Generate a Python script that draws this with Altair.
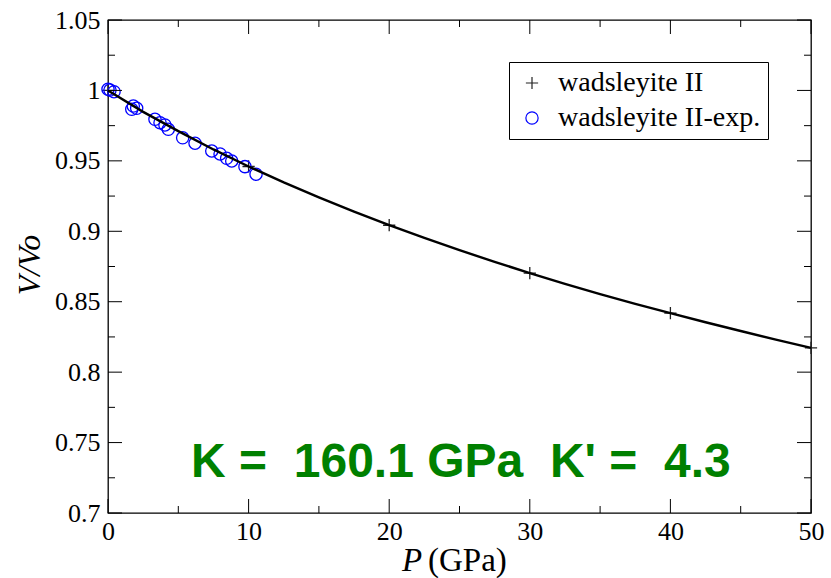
import altair as alt
import pandas as pd

# ---------------- data ----------------
series_names = ["wadsleyite II", "wadsleyite II-exp."]

# calculated points (plus markers)
calc_P = [0, 10, 20, 30, 40, 50]
calc_V = [1.0, 0.9460, 0.9043, 0.8703, 0.8419, 0.8172]

# fitted EOS curve
fit_P = [0, 2.5, 5, 7.5, 10, 12.5, 15, 17.5, 20, 22.5, 25, 27.5, 30,
         32.5, 35, 37.5, 40, 42.5, 45, 47.5, 50]
fit_V = [1.0, 0.9848, 0.9711, 0.9581, 0.9460, 0.9347, 0.9241, 0.9140,
         0.9043, 0.8953, 0.8866, 0.8783, 0.8703, 0.8627, 0.8554, 0.8485,
         0.8419, 0.8354, 0.8292, 0.8231, 0.8172]

# experimental points (open circles)
exp_P = [0.0, 0.14, 0.43, 1.80, 1.69, 2.04, 3.34, 3.70, 4.05, 4.29,
         5.31, 6.19, 7.38, 7.97, 8.44, 8.80, 9.74, 10.53]
exp_V = [1.0008, 1.0003, 0.9991, 0.9889, 0.9866, 0.9873, 0.9795, 0.9771,
         0.9755, 0.9724, 0.9664, 0.9625, 0.9570, 0.9549, 0.9518, 0.9499,
         0.9459, 0.9405]

x_major = [0, 10, 20, 30, 40, 50]
x_minor = [5, 15, 25, 35, 45]
y_major = [0.7, 0.75, 0.8, 0.85, 0.9, 0.95, 1.0, 1.05]
y_minor = [0.725, 0.775, 0.825, 0.875, 0.925, 0.975, 1.025]

annotation_text = ["K =\u00a0 160.1 GPa\u00a0 K' =\u00a0 4.3"]
annotation_P = [25.1]
annotation_V = [0.7256]

# ---------------- layout constants ----------------
W, H = 703, 493
SERIF = "Times New Roman, Liberation Serif, serif"
PLUS = "M-1,0L1,0M0,-1L0,1"

xs = alt.Scale(domain=[0, 50], nice=False, zero=False)
ys = alt.Scale(domain=[0.7, 1.05], nice=False, zero=False)

xaxis = alt.Axis(values=x_major, tickSize=0, domain=False, grid=False, title=None,
                 labelFont=SERIF, labelFontSize=26, labelColor="black",
                 labelFlush=False, labelOverlap=False, labelPadding=5, format="d")
yaxis = alt.Axis(values=y_major, tickSize=0, domain=False, grid=False, title=None,
                 labelFont=SERIF, labelFontSize=26, labelColor="black",
                 labelFlush=False, labelOverlap=False, labelPadding=8, format="~g")

pts = pd.DataFrame({
    "P": calc_P + exp_P,
    "V": calc_V + exp_V,
    "series": [series_names[0]] * len(calc_P) + [series_names[1]] * len(exp_P),
})

leg = alt.Legend(title=None, orient="none", legendX=401, legendY=42,
                 strokeColor="black", fillColor="white", padding=7,
                 labelFont=SERIF, labelFontSize=28, labelColor="black", labelLimit=400,
                 symbolSize=150, symbolStrokeWidth=1.2, symbolOffset=2,
                 rowPadding=7, labelOffset=12)

points = alt.Chart(pts).mark_point(filled=False, size=150, strokeWidth=1.3, opacity=1).encode(
    x=alt.X("P:Q", scale=xs, axis=xaxis),
    y=alt.Y("V:Q", scale=ys, axis=yaxis),
    color=alt.Color("series:N", scale=alt.Scale(domain=series_names, range=["#222222", "#0000ff"]), legend=leg),
    shape=alt.Shape("series:N", scale=alt.Scale(domain=series_names, range=[PLUS, "circle"]), legend=leg),
)

fit_df = pd.DataFrame({"P": fit_P, "V": fit_V})
line = alt.Chart(fit_df).mark_line(color="black", strokeWidth=2.4).encode(
    x=alt.X("P:Q", scale=xs), y=alt.Y("V:Q", scale=ys)
)

# inward ticks on all four sides
xmaj = pd.DataFrame({"P": x_major})
xmin = pd.DataFrame({"P": x_minor})
ymaj = pd.DataFrame({"V": y_major})
ymin = pd.DataFrame({"V": y_minor})

def xticks(df, L):
    b = alt.Chart(df).mark_rule(color="black", strokeWidth=1).encode(
        x=alt.X("P:Q", scale=xs), y=alt.value(H), y2=alt.value(H - L))
    t = alt.Chart(df).mark_rule(color="black", strokeWidth=1).encode(
        x=alt.X("P:Q", scale=xs), y=alt.value(0), y2=alt.value(L))
    return b + t

def yticks(df, L):
    l = alt.Chart(df).mark_rule(color="black", strokeWidth=1).encode(
        y=alt.Y("V:Q", scale=ys), x=alt.value(0), x2=alt.value(L))
    r = alt.Chart(df).mark_rule(color="black", strokeWidth=1).encode(
        y=alt.Y("V:Q", scale=ys), x=alt.value(W), x2=alt.value(W - L))
    return l + r

ann_df = pd.DataFrame({"P": annotation_P, "V": annotation_V, "t": annotation_text})
ann = alt.Chart(ann_df).mark_text(font="Liberation Sans", fontWeight="bold", fontSize=48,
                                  color="#008000", align="center", baseline="alphabetic").encode(
    x=alt.X("P:Q", scale=xs), y=alt.Y("V:Q", scale=ys), text="t:N")

one = pd.DataFrame({"a": [0]})
xt_p = alt.Chart(one).mark_text(text="P", font=SERIF, fontStyle="italic", fontSize=33,
                                color="black", align="left", baseline="alphabetic").encode(
    x=alt.value(294), y=alt.value(551))
xt_g = alt.Chart(one).mark_text(text="(GPa)", font=SERIF, fontSize=33,
                                color="black", align="left", baseline="alphabetic").encode(
    x=alt.value(320), y=alt.value(551))
yt = alt.Chart(one).mark_text(text="V/Vo", font=SERIF, fontStyle="italic", fontSize=32,
                              color="black", align="center", baseline="middle", angle=270).encode(
    x=alt.value(-78), y=alt.value(245))

chart = alt.layer(
    points, line,
    xticks(xmaj, 14), xticks(xmin, 7), yticks(ymaj, 14), yticks(ymin, 7),
    ann, xt_p, xt_g, yt,
).properties(
    width=W, height=H,
    padding={"left": 108, "top": 20, "right": 20, "bottom": 65},
    autosize=alt.AutoSizeParams(type="none"),
    background="white",
).configure_view(stroke="black", strokeWidth=1.3)

chart.save("out.html", embed_options={"renderer": "svg", "actions": False})
